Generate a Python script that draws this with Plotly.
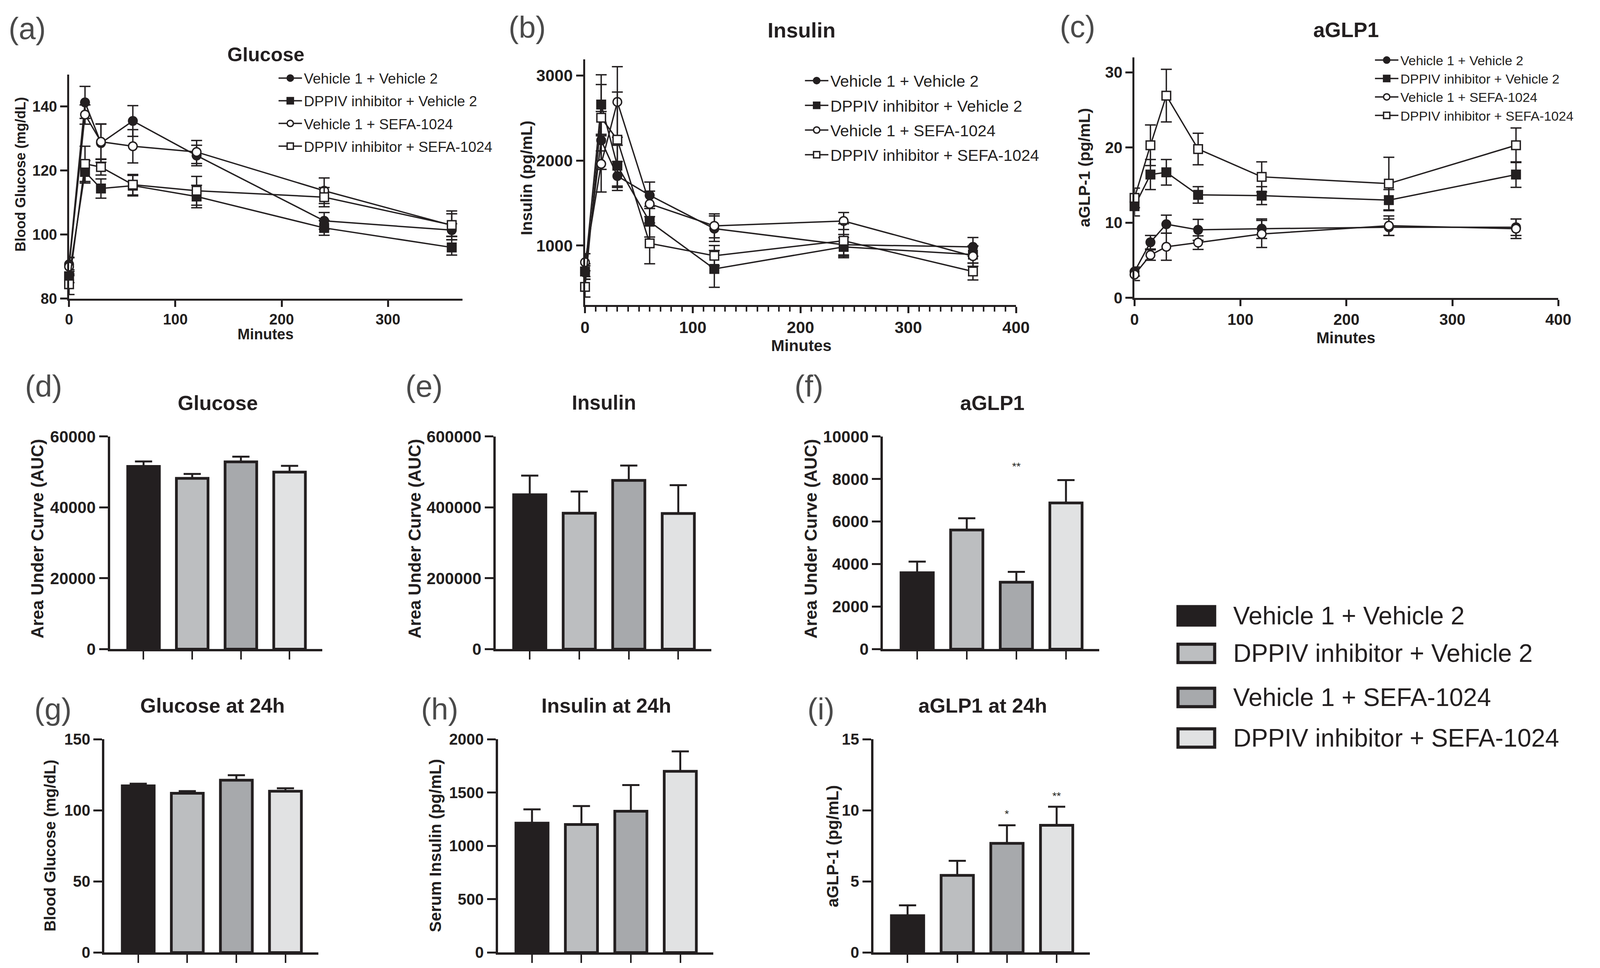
import plotly.graph_objects as go
from plotly.subplots import make_subplots

W, H = 4145, 2479
INK = "#231f20"
FONT = "Liberation Sans, Arial, sans-serif"

groups = [
    "Vehicle 1 + Vehicle 2",
    "DPPIV inhibitor + Vehicle 2",
    "Vehicle 1 + SEFA-1024",
    "DPPIV inhibitor + SEFA-1024",
]
minutes = [0, 15, 30, 60, 120, 240, 360]

# time courses, one list per group (same order as groups)
glucose_mean = [
    [90.7, 141.3, 128.6, 135.5, 124.7, 104.3, 101.4],
    [87.0, 119.6, 114.4, 115.3, 111.9, 102.1, 96.0],
    [90.0, 137.5, 129.0, 127.6, 125.8, 113.7, 102.9],
    [84.5, 122.1, 121.1, 115.6, 113.7, 111.7, 103.0],
]
glucose_sem = [
    [2.2, 5.0, 6.0, 4.8, 3.2, 2.6, 2.0],
    [2.0, 3.5, 3.0, 3.2, 3.5, 2.3, 2.4],
    [2.8, 3.0, 5.5, 5.2, 3.6, 4.0, 4.5],
    [3.2, 5.5, 2.5, 3.2, 4.5, 3.0, 3.5],
]
insulin_mean = [
    [683, 2236, 1818, 1591, 1199, 1010, 985],
    [696, 2657, 1939, 1281, 726, 985, 894],
    [804, 1960, 2688, 1490, 1232, 1289, 876],
    [515, 2502, 2244, 1026, 881, 1057, 696],
]
insulin_sem = [
    [80, 340, 170, 155, 150, 120, 110],
    [90, 350, 240, 180, 216, 110, 100],
    [100, 330, 415, 150, 140, 100, 120],
    [120, 390, 560, 240, 120, 200, 100],
]
aglp1_mean = [
    [3.5, 7.4, 9.8, 9.05, 9.2, 9.4, 9.4],
    [12.2, 16.4, 16.7, 13.7, 13.6, 13.0, 16.4],
    [3.1, 5.7, 6.8, 7.35, 8.5, 9.6, 9.2],
    [13.3, 20.3, 26.9, 19.8, 16.1, 15.2, 20.3],
]
aglp1_sem = [
    [0.6, 0.9, 1.2, 1.4, 1.3, 1.1, 1.1],
    [1.3, 2.0, 1.7, 1.1, 1.2, 1.4, 1.7],
    [0.8, 0.7, 1.8, 0.9, 1.8, 1.3, 1.3],
    [1.3, 2.7, 3.5, 2.1, 2.0, 3.5, 2.3],
]

# bar panels
auc_glucose = [51570, 48210, 52860, 49970]
auc_glucose_sem = [1400, 1240, 1450, 1760]
auc_insulin = [435900, 383800, 476200, 382800]
auc_insulin_sem = [54000, 61000, 42000, 80000]
auc_aglp1 = [3594, 5606, 3147, 6879]
auc_aglp1_sem = [525, 550, 490, 1075]
glucose_24h = [117.2, 112.0, 121.2, 113.4]
glucose_24h_sem = [1.5, 1.5, 3.5, 2.1]
insulin_24h = [1213, 1200, 1325, 1699]
insulin_24h_sem = [129, 173, 245, 187]
aglp1_24h = [2.59, 5.43, 7.68, 8.95]
aglp1_24h_sem = [0.73, 1.02, 1.27, 1.3]

bar_colors = ["#231f20", "#bcbec0", "#a7a9ac", "#e1e2e3"]
marker_symbols = ["circle", "square", "circle", "square"]
marker_fills = [INK, INK, "white", "white"]


def fx(px):
    return px / W


def fy(py):
    return 1 - py / H


fig = make_subplots(rows=3, cols=3)

# row 1: time courses
line_panels = [
    (glucose_mean, glucose_sem, "legend"),
    (insulin_mean, insulin_sem, "legend2"),
    (aglp1_mean, aglp1_sem, "legend3"),
]
for p, (means, sems, leg) in enumerate(line_panels):
    for g in range(4):
        fig.add_trace(
            go.Scatter(
                x=minutes, y=means[g], mode="lines+markers", name=groups[g],
                legend=leg, legendgroup=f"p{p}g{g}", cliponaxis=False,
                line=dict(color=INK, width=3.5),
                marker=dict(symbol=marker_symbols[g], size=22, color=marker_fills[g],
                            line=dict(color=INK, width=3.5)),
                error_y=dict(type="data", array=sems[g], color=INK,
                             thickness=3.5, width=14),
            ),
            row=1, col=p + 1,
        )

# rows 2-3: bars
bar_panels = [
    (2, 1, auc_glucose, auc_glucose_sem),
    (2, 2, auc_insulin, auc_insulin_sem),
    (2, 3, auc_aglp1, auc_aglp1_sem),
    (3, 1, glucose_24h, glucose_24h_sem),
    (3, 2, insulin_24h, insulin_24h_sem),
    (3, 3, aglp1_24h, aglp1_24h_sem),
]
for r, c, vals, sems in bar_panels:
    fig.add_trace(
        go.Bar(
            x=groups, y=vals, width=0.65, showlegend=False,
            marker=dict(color=bar_colors, line=dict(color=INK, width=7)),
            error_y=dict(type="data", symmetric=False, array=sems,
                         arrayminus=[0] * len(vals), color=INK,
                         thickness=5, width=22),
        ),
        row=r, col=c,
    )


def axis_style(size, lw=5):
    return dict(showline=True, linecolor=INK, linewidth=lw, ticks="outside",
                tickcolor=INK, tickwidth=5, showgrid=False, zeroline=False,
                tickfont=dict(family=FONT, size=size, color=INK, weight="bold"))


# domains in pixels: (x0, x1), (ytop, ybottom)
line_domains = [((158.6, 1177), (163, 748)),
                ((1494.6, 2610.7), (123, 765)),
                ((2917.5, 4015), (118, 746))]
line_xranges = [[0, 370], [0, 400], [0, 400]]
line_yranges = [[80, 150], [300, 3190], [0, 32]]
line_ydticks = [20, 1000, 10]
line_tick_sizes = [38, 42, 40]
for i in range(3):
    (x0, x1), (yt, yb) = line_domains[i]
    st = axis_style(line_tick_sizes[i])
    fig.update_xaxes(domain=[fx(x0), fx(x1)], range=line_xranges[i], dtick=100,
                     ticklen=16, row=1, col=i + 1, **st)
    fig.update_yaxes(domain=[fy(yb), fy(yt)], range=line_yranges[i],
                     dtick=line_ydticks[i], tickformat="d", ticklen=18,
                     row=1, col=i + 1, **st)
fig.update_xaxes(minor=dict(dtick=10, ticks="outside", ticklen=12, tickwidth=4,
                            tickcolor=INK), row=1, col=2)

bar_domains = {
    (2, 1): (264.5, 814), (2, 2): (1263, 1822), (2, 3): (2266, 2826),
    (3, 1): (250, 804), (3, 2): (1269, 1827), (3, 3): (2241, 2802),
}
bar_rows_y = {2: (1108, 1663), 3: (1898, 2455)}
bar_tick_sizes = {2: 42, 3: 40}
bar_yranges = {(2, 1): (60000, 20000), (2, 2): (600000, 200000), (2, 3): (10000, 2000),
               (3, 1): (150, 50), (3, 2): (2000, 500), (3, 3): (15, 5)}
for (r, c), (x0, x1) in bar_domains.items():
    yt, yb = bar_rows_y[r]
    top, step = bar_yranges[(r, c)]
    st = axis_style(bar_tick_sizes[r], lw=6)
    fig.update_xaxes(domain=[fx(x0), fx(x1)], range=[-0.69, 3.67],
                     showticklabels=False, ticklen=21, row=r, col=c,
                     **{**st, "tickwidth": 4})
    fig.update_yaxes(domain=[fy(yb), fy(yt)], range=[0, top], dtick=step,
                     tickformat="d", ticklen=22, row=r, col=c, **st)


def label(text, x, y, size, weight="normal", angle=0, color=INK, xanchor="center"):
    fig.add_annotation(text=text, x=fx(x), y=fy(y), xref="paper", yref="paper",
                       showarrow=False, textangle=angle, xanchor=xanchor,
                       yanchor="middle",
                       font=dict(family=FONT, size=size, color=color, weight=weight))


# panel letters
for txt, x, y in [("(a)", 0, 43), ("(b)", 1295, 40), ("(c)", 2722, 38),
                  ("(d)", 42, 977), ("(e)", 1028, 977), ("(f)", 2035, 977),
                  ("(g)", 67, 1820), ("(h)", 1068, 1820), ("(i)", 2068, 1820)]:
    label(txt, x, y, 78, color="#4a4a4a", xanchor="left")

# panel titles
for txt, x, y, s in [("Glucose", 668, 111, 50), ("Insulin", 2055, 47, 54),
                     ("aGLP1", 3465, 46, 53),
                     ("Glucose", 544, 1020, 52), ("Insulin", 1544, 1020, 51),
                     ("aGLP1", 2549, 1020, 52),
                     ("Glucose at 24h", 530, 1810, 52), ("Insulin at 24h", 1550, 1810, 52),
                     ("aGLP1 at 24h", 2524, 1810, 52)]:
    label(txt, x, y, s, weight="bold")

for x, y, s in [(668, 841, 38), (2055, 870, 41), (3465, 850, 40)]:
    label("Minutes", x, y, s, weight="bold")

# y-axis titles
label("Blood Glucose (mg/dL)", 33, 424, 36, weight="bold", angle=-90)
label("Insulin (pg/mL)", 1343, 433, 41, weight="bold", angle=-90)
label("aGLP-1 (pg/mL)", 2788, 406, 41, weight="bold", angle=-90)
for x in (77, 1054, 2080):
    label("Area Under Curve (AUC)", x, 1375, 44, weight="bold", angle=-90)
label("Blood Glucose (mg/dL)", 109, 2176, 40, weight="bold", angle=-90)
label("Serum Insulin (pg/mL)", 1107, 2176, 42, weight="bold", angle=-90)
label("aGLP-1 (pg/mL)", 2136, 2177, 42, weight="bold", angle=-90)

# significance marks
for txt, ax, yv, gi in [("**", 6, 8600, 2), ("*", 9, 9.74, 2), ("**", 9, 11.0, 3)]:
    fig.add_annotation(text=txt, x=groups[gi], y=yv, xref=f"x{ax}", yref=f"y{ax}",
                       showarrow=False, font=dict(family=FONT, size=28, color=INK))

# bar legend
for g, yc in enumerate([1576, 1674, 1789, 1895]):
    fig.add_shape(type="rect", xref="paper", yref="paper",
                  x0=fx(3030), x1=fx(3125), y0=fy(yc + 24), y1=fy(yc - 24),
                  fillcolor=bar_colors[g], line=dict(color=INK, width=8))
    label(groups[g], 3171, yc, 64, xanchor="left")

legend_common = dict(xanchor="left", yanchor="top", bgcolor="rgba(0,0,0,0)",
                     itemwidth=60, itemclick=False)
fig.update_layout(
    width=W, height=H, margin=dict(l=0, r=0, t=0, b=0),
    paper_bgcolor="white", plot_bgcolor="white", bargap=0.35,
    legend=dict(x=fx(696), y=fy(141), tracegroupgap=7,
                font=dict(family=FONT, size=37, color=INK), **legend_common),
    legend2=dict(x=fx(2059), y=fy(145), tracegroupgap=7,
                 font=dict(family=FONT, size=41, color=INK), **legend_common),
    legend3=dict(x=fx(3535), y=fy(96), tracegroupgap=0,
                 font=dict(family=FONT, size=34, color=INK), **legend_common),
)

fig.write_html("out.html")
